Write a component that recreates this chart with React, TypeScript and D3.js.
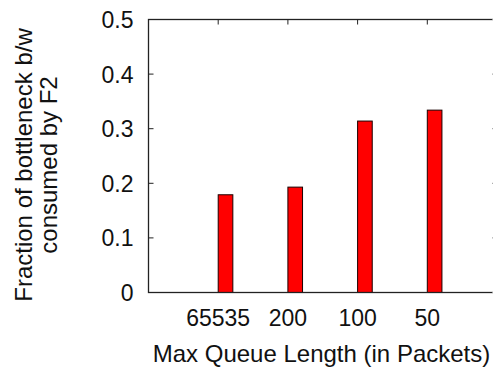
import React, { useRef, useEffect } from "react";
import * as d3 from "d3";

// data
const categories = ["65535", "200", "100", "50"];
const fractions = [0.179, 0.193, 0.314, 0.334];
const yTicks = [0, 0.1, 0.2, 0.3, 0.4, 0.5];
const yTitleLines = ["Fraction of bottleneck b/w", "consumed by F2"];
const xTitle = "Max Queue Length (in Packets)";

const W = 493;
const H = 369;
const FONT = "'Liberation Sans', Arial, sans-serif";

const App = () => {
  const ref = useRef<SVGSVGElement | null>(null);

  useEffect(() => {
    if (!ref.current) return;
    const svg = d3.select(ref.current);
    svg.selectAll("*").remove();

    const left = 148.5;
    const top = 19.5;
    const bottom = 292.5;
    const right = 497;

    // slots 0..5, categories sit at 1..4
    const x = d3.scaleLinear().domain([0, categories.length + 1]).range([left, right]);
    const y = d3.scaleLinear().domain([0, 0.5]).range([bottom, top]);
    const barW = (x(1) - x(0)) * 0.21;

    const g = svg.append("g");

    // bars
    g.selectAll("rect.bar")
      .data(fractions)
      .join("rect")
      .attr("class", "bar")
      .attr("x", (d, i) => x(i + 1))
      .attr("y", (d) => y(d))
      .attr("width", barW)
      .attr("height", (d) => y(0) - y(d))
      .style("fill", "#ff0000")
      .style("stroke", "#1a0000")
      .style("stroke-width", 1);

    // frame
    g.append("rect")
      .attr("x", left)
      .attr("y", top)
      .attr("width", right - left)
      .attr("height", bottom - top)
      .style("fill", "none")
      .style("stroke", "#222")
      .style("stroke-width", 1.3);

    // y ticks (left + mirrored right)
    yTicks.forEach((t) => {
      g.append("line")
        .attr("x1", left).attr("x2", left + 5)
        .attr("y1", y(t)).attr("y2", y(t))
        .style("stroke", "#222");
      g.append("line")
        .attr("x1", right - 5).attr("x2", right)
        .attr("y1", y(t)).attr("y2", y(t))
        .style("stroke", "#999");
      g.append("text")
        .text(t === 0 ? "0" : t.toFixed(1))
        .attr("x", left - 15)
        .attr("y", y(t) + 8.5)
        .style("text-anchor", "end")
        .style("font-family", FONT)
        .style("font-size", "23px")
        .style("fill", "#111");
    });

    // x ticks (top + bottom) and labels
    categories.forEach((c, i) => {
      g.append("line")
        .attr("x1", x(i + 1)).attr("x2", x(i + 1))
        .attr("y1", top).attr("y2", top + 5)
        .style("stroke", "#222");
      g.append("text")
        .text(c)
        .attr("x", x(i + 1))
        .attr("y", 325.5)
        .style("text-anchor", "middle")
        .style("font-family", FONT)
        .style("font-size", "23px")
        .style("fill", "#111");
    });

    // axis titles
    g.append("text")
      .text(xTitle)
      .attr("x", 321.5)
      .attr("y", 361.5)
      .style("text-anchor", "middle")
      .style("font-family", FONT)
      .style("font-size", "24px")
      .style("fill", "#111");

    yTitleLines.forEach((line, i) => {
      g.append("text")
        .text(line)
        .attr("transform", `translate(${32 + i * 25}, 165) rotate(-90)`)
        .style("text-anchor", "middle")
        .style("font-family", FONT)
        .style("font-size", "24px")
        .style("fill", "#111");
    });
  }, []);

  return (
    <svg
      ref={ref}
      width={W}
      height={H}
      style={{ position: "absolute", left: 0, top: 0, background: "#fff" }}
    />
  );
};

export default App;
